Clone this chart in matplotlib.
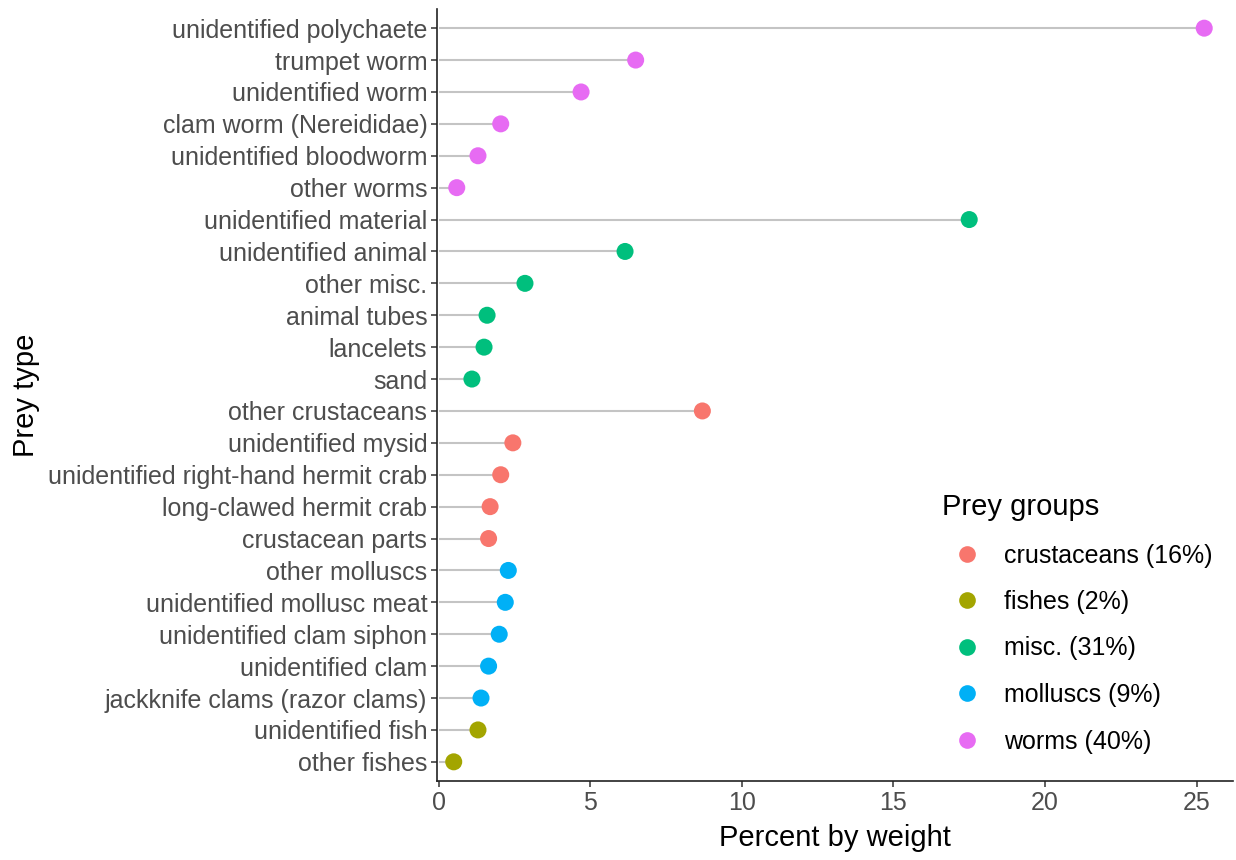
import matplotlib.pyplot as plt
from matplotlib.lines import Line2D

plt.rcParams["font.family"] = ["Liberation Sans", "DejaVu Sans"]

# prey types, top to bottom as shown
prey = [
    "unidentified polychaete", "trumpet worm", "unidentified worm",
    "clam worm (Nereididae)", "unidentified bloodworm", "other worms",
    "unidentified material", "unidentified animal", "other misc.",
    "animal tubes", "lancelets", "sand",
    "other crustaceans", "unidentified mysid",
    "unidentified right-hand hermit crab", "long-clawed hermit crab",
    "crustacean parts",
    "other molluscs", "unidentified mollusc meat", "unidentified clam siphon",
    "unidentified clam", "jackknife clams (razor clams)",
    "unidentified fish", "other fishes",
]
percent = [
    25.25, 6.5, 4.7, 2.05, 1.3, 0.6,
    17.5, 6.15, 2.85, 1.6, 1.5, 1.1,
    8.7, 2.45, 2.05, 1.7, 1.65,
    2.3, 2.2, 2.0, 1.65, 1.4,
    1.3, 0.5,
]
group = (["worms"] * 6 + ["misc."] * 6 + ["crustaceans"] * 5
         + ["molluscs"] * 5 + ["fishes"] * 2)

groups = ["crustaceans", "fishes", "misc.", "molluscs", "worms"]
group_share = [16, 2, 31, 9, 40]
group_colors = ["#F8766D", "#A3A500", "#00BF7D", "#00B0F6", "#E76BF3"]
color_of = dict(zip(groups, group_colors))

fig = plt.figure(figsize=(12.36, 8.6), dpi=100)
ax = fig.add_axes([0.3536, 0.0919, 0.644, 0.8976])

n = len(prey)
y = list(range(n - 1, -1, -1))
ax.hlines(y, 0, percent, color="#c4c4c4", linewidth=1.5, zorder=1)
ax.scatter(percent, y, s=150, c=[color_of[g] for g in group],
           zorder=2, linewidths=0)

ax.set_yticks(y)
ax.set_yticklabels(prey)
ax.set_ylim(-0.6, n - 1 + 0.6)
ax.set_xlim(-0.05, 26.2)
ax.set_xticks([0, 5, 10, 15, 20, 25])

for side in ["top", "right"]:
    ax.spines[side].set_visible(False)
for side in ["left", "bottom"]:
    ax.spines[side].set_linewidth(1.2)
    ax.spines[side].set_color("#222222")
ax.tick_params(axis="both", labelsize=18, labelcolor="#4d4d4d",
               color="#333333", length=4, width=1.1, pad=3)

ax.set_xlabel("Percent by weight", fontsize=21, labelpad=7)
ax.set_ylabel("Prey type", fontsize=21, labelpad=6)

handles = [
    Line2D([], [], marker="o", linestyle="", markersize=12,
           markerfacecolor=c, markeredgewidth=0)
    for c in group_colors
]
labels = [f"{g} ({p}%)" for g, p in zip(groups, group_share)]
leg = ax.legend(handles, labels, title="Prey groups", frameon=False,
                fontsize=18, title_fontsize=21, labelspacing=0.9,
                handletextpad=0.5, handlelength=2.0, alignment="left",
                loc="upper left", bbox_to_anchor=(932 / 1236, 1 - 483 / 860),
                bbox_transform=fig.transFigure, borderaxespad=0)

fig.savefig("out.png", dpi=100)
